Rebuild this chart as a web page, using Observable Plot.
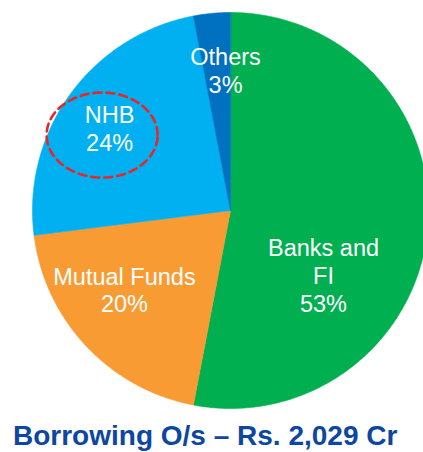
<!DOCTYPE html>
<html>
<head>
<meta charset="utf-8">
<script src="https://cdn.jsdelivr.net/npm/d3@7"></script>
<script src="https://cdn.jsdelivr.net/npm/@observablehq/plot@0.6"></script>
<style>
  html, body { margin: 0; padding: 0; background: #fff; overflow: hidden; width: 423px; height: 452px; }
  #chart svg { display: block; overflow: hidden; }
  #title { font-family: "Liberation Sans", Arial, sans-serif; font-weight: bold; font-size: 28px; line-height: 31px; color: #0D47A1; padding-left: 13px; white-space: nowrap; }
</style>
</head>
<body>
<div id="chart"></div>
<div id="title"></div>
<script>
// ---- data ----
const categories = ["Banks and FI", "Mutual Funds", "NHB", "Others"];
const shares = [53, 20, 24, 3];
const labelNames = ["Banks and\nFI", "Mutual Funds", "NHB", "Others"];
const titleText = "Borrowing O/s \u2013 Rs. 2,029 Cr";

// ---- styles / layout ----
const colors = ["#00B050", "#F99B33", "#00B0F0", "#0070C0"];
// label anchors in polar form: [angle clockwise from top (deg), radius fraction]
const labelPolar = {
  "Banks and FI": [124.8, 0.572],
  "Mutual Funds": [233.3, 0.668],
  "NHB": [304.3, 0.739],
  "Others": [358.0, 0.712]
};
const R = 198;

const pieData = categories.map((c, i) => ({cat: c, value: shares[i]}));
const arcs = d3.pie().sort(null).value(d => d.value).startAngle(0).endAngle(2 * Math.PI)(pieData);

const slicePoints = [];
for (const a of arcs) {
  slicePoints.push({cat: a.data.cat, x: 0, y: 0});
  const n = Math.max(2, Math.ceil((a.endAngle - a.startAngle) / (Math.PI / 360)));
  for (let k = 0; k <= n; k++) {
    const t = a.startAngle + (a.endAngle - a.startAngle) * k / n;
    slicePoints.push({cat: a.data.cat, x: Math.sin(t), y: Math.cos(t)});
  }
}

const labels = categories.map((c, i) => {
  const [deg, r] = labelPolar[c];
  const t = deg * Math.PI / 180;
  return {cat: c, x: r * Math.sin(t), y: r * Math.cos(t), text: labelNames[i] + "\n" + shares[i] + "%"};
});

// dashed highlight ellipse around the NHB label
const nhb = labels.find(d => d.cat === "NHB");
const ecx = nhb.x - 7.5 / R, ecy = nhb.y - 7 / R, erx = 55.5 / R, ery = 42.5 / R;
const ellipse = d3.range(0, 360, 2).map(d => {
  const t = d * Math.PI / 180;
  return {x: ecx + erx * Math.cos(t), y: ecy + ery * Math.sin(t)};
});

const plot = Plot.plot({
  width: 423,
  height: 420,
  margin: 0,
  x: {type: "linear", domain: [-1, 1], range: [230 - R, 230 + R], axis: null},
  y: {type: "linear", domain: [-1, 1], range: [210 + R, 210 - R], axis: null},
  color: {type: "ordinal", domain: categories, range: colors},
  style: {fontFamily: "'Liberation Sans', Arial, sans-serif", background: "white"},
  marks: [
    Plot.line(slicePoints, {x: "x", y: "y", z: "cat", fill: "cat", stroke: "cat", strokeWidth: 0.6, curve: "linear-closed"}),
    Plot.text(labels, {x: "x", y: "y", text: "text", fill: "white", fontSize: 23.5, lineHeight: 1.19, textAnchor: "middle"}),
    Plot.line(ellipse, {x: "x", y: "y", curve: "linear-closed", stroke: "#E8262A", strokeWidth: 2.6, strokeDasharray: "8,5"})
  ]
});
document.getElementById("chart").appendChild(plot);
document.getElementById("title").textContent = titleText;
</script>
</body>
</html>
